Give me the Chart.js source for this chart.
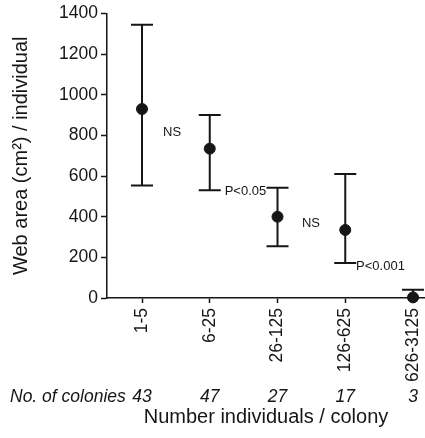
<!DOCTYPE html>
<html>
<head>
<meta charset="utf-8">
<script src="https://cdn.jsdelivr.net/npm/chart.js@4/dist/chart.umd.min.js"></script>
<style>
    body { margin: 0; background: #fff; }
    canvas { display: block; }
</style>
</head>
<body>
<canvas id="webChart" width="425" height="438"></canvas>
<script>
const groups = ['1-5', '6-25', '26-125', '126-625', '626-3125']
const meanArea = [930, 735, 400, 335, 3]
const lowerArea = [553, 530, 255, 172, 0]
const upperArea = [1345, 900, 543, 610, 40]
const colonyCounts = [43, 47, 27, 17, 3]
const tests = ['NS', 'P<0.05', 'NS', 'P<0.001']
const testX = [0.31, 1.22, 2.36, 3.16]
const testY = [815, 525, 368, 157]

const ink = '#161616'
const family = "'Liberation Sans', Arial, Helvetica, sans-serif"

document.addEventListener('DOMContentLoaded', function(){
    const canvas = document.getElementById('webChart').getContext('2d');
    createWebAreaChart(canvas)
});

const errorBarsPlugin = {
    id: 'errorBars',
    beforeDatasetsDraw(chart) {
        const ctx = chart.ctx
        const x = chart.scales.x
        const y = chart.scales.y
        ctx.save()
        ctx.strokeStyle = ink
        ctx.lineWidth = 2
        for (let i = 0; i < groups.length; i++) {
            const px = x.getPixelForValue(i)
            const top = y.getPixelForValue(upperArea[i])
            const bottom = y.getPixelForValue(lowerArea[i])
            ctx.beginPath()
            ctx.moveTo(px, top)
            ctx.lineTo(px, bottom)
            ctx.moveTo(px - 11, top)
            ctx.lineTo(px + 11, top)
            if (lowerArea[i] > 0) {
                ctx.moveTo(px - 11, bottom)
                ctx.lineTo(px + 11, bottom)
            }
            ctx.stroke()
        }
        ctx.restore()
    }
}

const textLabelsPlugin = {
    id: 'textLabels',
    afterDraw(chart) {
        const ctx = chart.ctx
        const x = chart.scales.x
        const y = chart.scales.y
        ctx.save()
        ctx.fillStyle = ink
        ctx.textBaseline = 'middle'
        ctx.font = '13px ' + family
        ctx.textAlign = 'left'
        for (let i = 0; i < tests.length; i++) {
            ctx.fillText(tests[i], x.getPixelForValue(testX[i]), y.getPixelForValue(testY[i]))
        }
        // colony counts row under the rotated labels
        const rowY = 397
        ctx.font = 'italic 17.5px ' + family
        ctx.fillText('No. of colonies', 10, rowY)
        ctx.textAlign = 'center'
        for (let i = 0; i < colonyCounts.length; i++) {
            ctx.fillText(String(colonyCounts[i]), x.getPixelForValue(i), rowY)
        }
        ctx.restore()
    }
}

function createWebAreaChart(canvas) {
    const points = meanArea.map((v, i) => ({x: i, y: v}))
    new Chart(canvas, {
        type: 'scatter',
        data: {
            datasets: [{
                data: points,
                backgroundColor: ink,
                borderColor: ink,
                pointRadius: 5.5,
                pointHoverRadius: 5.5,
                clip: false,
            }]
        },
        options: {
            responsive: false,
            animation: false,
            layout: {
                autoPadding: false,
                padding: {top: 13, right: 0, bottom: 0, left: 0}
            },
            plugins: {
                legend: {display: false},
                tooltip: {enabled: false},
            },
            scales: {
                x: {
                    type: 'linear',
                    min: -0.5166,
                    max: 4.177,
                    afterBuildTicks: function(scale) {
                        scale.ticks = groups.map((g, i) => ({value: i}))
                    },
                    afterFit: function(scale) {
                        scale.height = 140
                        scale.paddingLeft = 0
                        scale.paddingRight = 0
                    },
                    ticks: {
                        autoSkip: false,
                        minRotation: 90,
                        maxRotation: 90,
                        padding: 5,
                        color: ink,
                        font: {family: family, size: 17.5},
                        callback: function(value) {
                            return groups[value]
                        }
                    },
                    grid: {
                        drawOnChartArea: false,
                        drawTicks: true,
                        tickLength: 5,
                        tickWidth: 1.5,
                        tickColor: ink,
                    },
                    border: {display: true, color: ink, width: 1.5},
                    title: {
                        display: true,
                        text: 'Number individuals / colony',
                        color: ink,
                        font: {family: family, size: 20},
                        padding: {top: 0, bottom: 9},
                    }
                },
                y: {
                    min: 0,
                    max: 1400,
                    afterFit: function(scale) {
                        scale.width = 107
                    },
                    ticks: {
                        stepSize: 200,
                        padding: 3,
                        color: ink,
                        font: {family: family, size: 17.5},
                        callback: function(value) {
                            return String(value)
                        }
                    },
                    grid: {
                        drawOnChartArea: false,
                        drawTicks: true,
                        tickLength: 6,
                        tickWidth: 1.5,
                        tickColor: ink,
                    },
                    border: {display: true, color: ink, width: 1.5},
                    title: {
                        display: true,
                        text: 'Web area (cm²) / individual',
                        color: ink,
                        font: {family: family, size: 20},
                        padding: {top: 9, bottom: 0},
                    }
                }
            }
        },
        plugins: [errorBarsPlugin, textLabelsPlugin]
    });
}
</script>
</body>
</html>
